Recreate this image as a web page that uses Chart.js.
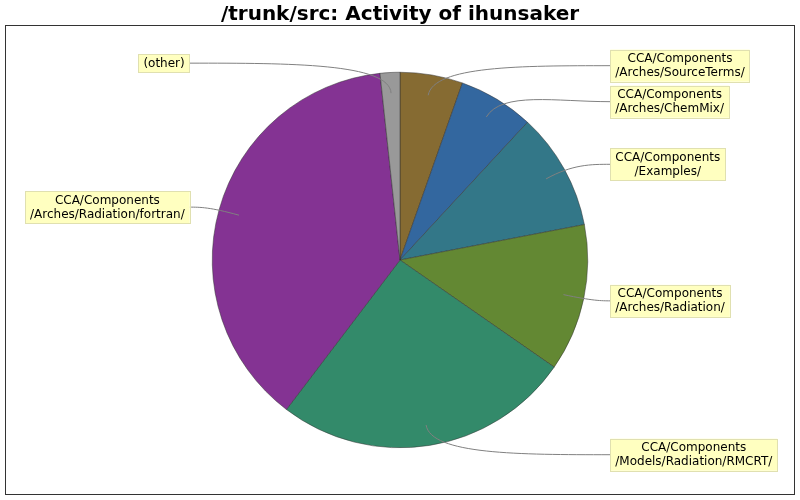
<!DOCTYPE html>
<html>
<head>
<meta charset="utf-8">
<title>/trunk/src: Activity of ihunsaker</title>
<script src="https://cdn.jsdelivr.net/npm/chart.js@4.4.0/dist/chart.umd.min.js"></script>
<style>
  html, body { margin: 0; padding: 0; background: #fff; }
  #wrap { width: 800px; height: 500px; }
</style>
</head>
<body>
<div id="wrap"><canvas id="myChart" width="800" height="500"></canvas></div>
<script>
// CHART DATA (share of activity per directory)
const labels = [
    'CCA/Components\n/Arches/SourceTerms/',
    'CCA/Components\n/Arches/ChemMix/',
    'CCA/Components\n/Examples/',
    'CCA/Components\n/Arches/Radiation/',
    'CCA/Components\n/Models/Radiation/RMCRT/',
    'CCA/Components\n/Arches/Radiation/fortran/',
    '(other)'
];
const values = [5.4, 6.5, 10.1, 12.7, 25.7, 38.0, 1.7];
const sliceColors = ['#866b32', '#33679f', '#337788', '#638833', '#338a6a', '#843393', '#999999'];
const chartTitle = '/trunk/src: Activity of ihunsaker';

// LABEL BOXES WITH CURVED LINKS, TITLE AND FRAME
const pieLabels = {
    id: 'pieLabels',
    afterDraw(chart) {
        const ctx = chart.ctx;
        const arcs = chart.getDatasetMeta(0).data;
        const lineH = 14;
        const gap = 4;
        ctx.save();

        // title
        ctx.fillStyle = '#000';
        ctx.font = 'bold 20px "DejaVu Sans"';
        ctx.textAlign = 'center';
        ctx.textBaseline = 'alphabetic';
        ctx.fillText(chartTitle, 400, 20);

        // frame
        ctx.strokeStyle = '#333';
        ctx.lineWidth = 1;
        ctx.strokeRect(5.5, 25.5, 789, 469);

        // work out label positions
        ctx.font = '12px "DejaVu Sans"';
        const items = arcs.map((arc, i) => {
            const mid = (arc.startAngle + arc.endAngle) / 2;
            const R = arc.outerRadius;
            const lines = labels[i].split('\n');
            const w = Math.max(...lines.map(l => ctx.measureText(l).width)) + 10;
            const h = lines.length * lineH + 4;
            return {
                lines, w, h, R,
                cx: arc.x, cy: arc.y, mid,
                right: Math.cos(mid) >= 0,
                y: arc.y + Math.sin(mid) * R * 1.05
            };
        });
        // push overlapping boxes down on each side
        [true, false].forEach(side => {
            const list = items.filter(it => it.right === side).sort((a, b) => a.y - b.y);
            let bottom = -Infinity;
            list.forEach(it => {
                if (it.y - it.h / 2 < bottom + gap) it.y = bottom + gap + it.h / 2;
                bottom = it.y + it.h / 2;
            });
        });

        items.forEach(it => {
            const px = it.cx + Math.cos(it.mid) * it.R * 0.89;
            const py = it.cy + Math.sin(it.mid) * it.R * 0.89;
            const ex = it.cx + Math.cos(it.mid) * it.R * 1.05;
            const ey = it.cy + Math.sin(it.mid) * it.R * 1.05;
            const tx = it.right ? it.cx + it.R * 1.12 : it.cx - it.R * 1.12;
            const ty = it.y;

            // link
            ctx.strokeStyle = '#808080';
            ctx.lineWidth = 1;
            ctx.beginPath();
            ctx.moveTo(px, py);
            ctx.bezierCurveTo(ex, ey, (ex + tx) / 2, ty, tx, ty);
            ctx.stroke();

            // box
            const bx = it.right ? tx : tx - it.w;
            const by = ty - it.h / 2;
            ctx.fillStyle = '#ffffc0';
            ctx.fillRect(bx, by, it.w, it.h);
            ctx.strokeStyle = '#e0e0b0';
            ctx.strokeRect(Math.round(bx) + 0.5, Math.round(by) + 0.5, Math.round(it.w), Math.round(it.h));

            // text
            ctx.fillStyle = '#000';
            ctx.textAlign = 'center';
            ctx.textBaseline = 'middle';
            it.lines.forEach((l, k) => {
                ctx.fillText(l, bx + it.w / 2, by + 2 + lineH * k + lineH / 2 + 0.5);
            });
        });
        ctx.restore();
    }
};

new Chart(document.getElementById('myChart').getContext('2d'), {
    type: 'pie',
    data: {
        labels,
        datasets: [{
            data: values,
            backgroundColor: sliceColors,
            borderColor: '#333',
            borderWidth: 0.5
        }]
    },
    options: {
        responsive: false,
        animation: false,
        devicePixelRatio: 1,
        layout: { padding: { left: 212, right: 212, top: 72, bottom: 52 } },
        plugins: {
            legend: { display: false },
            title: { display: false },
            tooltip: { enabled: false }
        }
    },
    plugins: [pieLabels]
});
</script>
</body>
</html>
